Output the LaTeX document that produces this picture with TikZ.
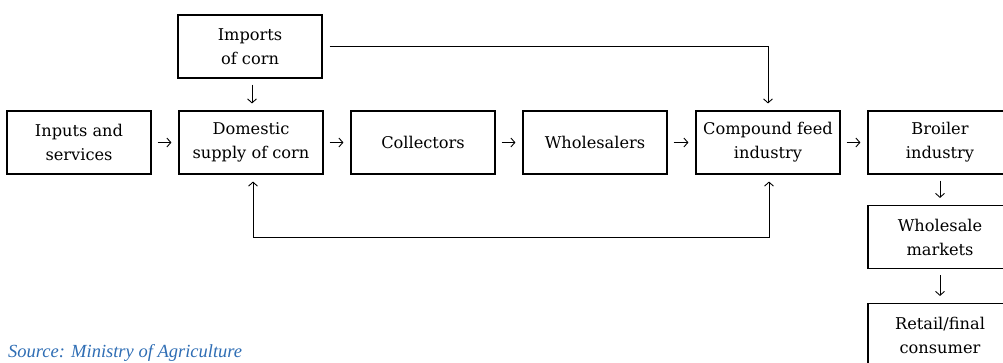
\documentclass[tikz,border=0pt]{standalone}
\usepackage{fontspec}
\setmainfont{DejaVu Serif}
\newfontfamily\srcfont{Liberation Serif}
\usetikzlibrary{arrows.meta}
\definecolor{srcblue}{HTML}{2E6DB4}
\begin{document}
\begin{tikzpicture}[x=1pt,y=-1pt,
  box/.style={draw, line width=1.1pt, minimum width=144pt, minimum height=63pt, inner sep=0pt, align=center, font=\fontsize{16.2}{24}\selectfont},
  conn/.style={line width=0.9pt, -{Straight Barb[length=4pt,width=9pt]}},
  short/.style={conn, shorten <=6pt, shorten >=7pt}]
\useasboundingbox (0,0) rectangle (1003,362);
\begin{scope}
\clip (0,0) rectangle (1003,362);
\node[box] (imp) at (250,46.5) {Imports\\of corn};
\node[box] (inp) at (79,142.5) {Inputs and\\services};
\node[box] (dom) at (251,142.5) {Domestic\\supply of corn};
\node[box] (col) at (423,142.5) {Collectors};
\node[box] (whs) at (595,142.5) {Wholesalers};
\node[box] (cfi) at (768,142.5) {Compound feed\\industry};
\node[box] (bro) at (940,142.5) {Broiler\\industry};
\node[box] (wsm) at (940,237) {Wholesale\\markets};
\node[box] (ret) at (940,335) {Retail/final\\consumer};
\draw[short] (inp) -- (col.west -| dom.west);
\draw[short] (dom) -- (col);
\draw[short] (col) -- (whs);
\draw[short] (whs) -- (cfi);
\draw[short] (cfi) -- (cfi -| bro.west);
\draw[short] ([xshift=2pt]imp.south) -- ([xshift=1pt]dom.north);
\draw[short] (bro) -- (wsm);
\draw[short] (wsm) -- (ret);
\coordinate (fb) at (0,237);
\draw[conn, shorten >=7pt] ([xshift=7pt]imp.east) -| (cfi.north);
\draw[conn, {Straight Barb[length=4pt,width=9pt]}-{Straight Barb[length=4pt,width=9pt]}, shorten <=7pt, shorten >=7pt]
  ([xshift=2pt]dom.south) -- ([xshift=2pt]dom.south |- fb) -| ([xshift=1pt]cfi.south);
\node[anchor=base west, inner sep=0pt, text=srcblue, font=\srcfont\itshape\fontsize{18.5}{22}\selectfont] (src) at (8,357) {Source: Ministry of Agriculture};
\end{scope}
\end{tikzpicture}
\end{document}
